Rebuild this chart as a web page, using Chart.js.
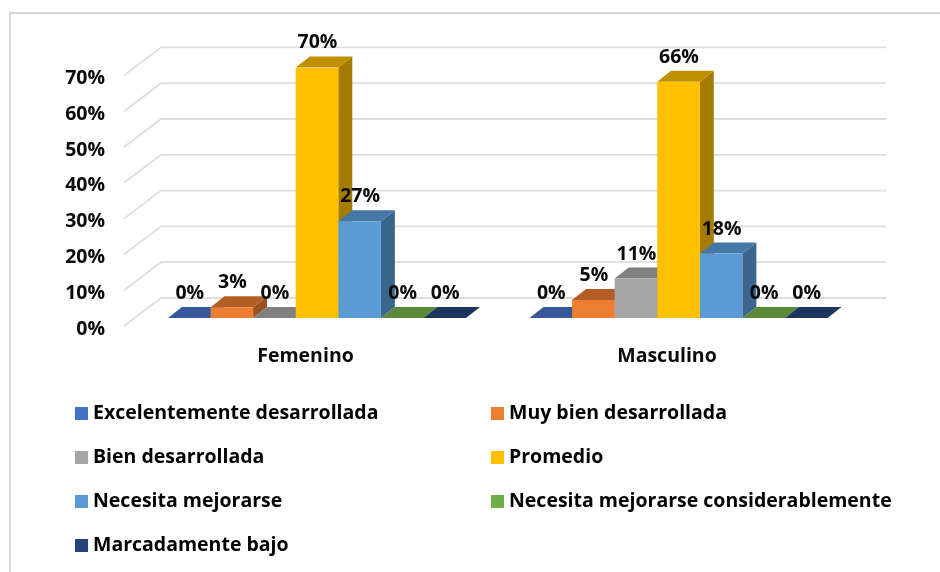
<!DOCTYPE html>
<html><head><meta charset="utf-8">
<style>html,body{margin:0;padding:0;background:#fff}canvas{display:block;filter:blur(0.4px)}</style>
<script src="https://cdn.jsdelivr.net/npm/chart.js@4/dist/chart.umd.min.js"></script>
</head><body>
<canvas id="c" width="940" height="572"></canvas>
<script>
const categories = ["Femenino", "Masculino"];
const excelente = [0, 0];
const muyBien = [3, 5];
const bien = [0, 11];
const promedio = [70, 66];
const necesita = [27, 18];
const considerable = [0, 0];
const bajo = [0, 0];
const seriesNames = ["Excelentemente desarrollada","Muy bien desarrollada","Bien desarrollada","Promedio","Necesita mejorarse","Necesita mejorarse considerablemente","Marcadamente bajo"];
const seriesValues = [excelente, muyBien, bien, promedio, necesita, considerable, bajo];
const frontColors = ["#4472C4","#ED7D31","#A5A5A5","#FFC000","#5B9BD5","#70AD47","#264478"];
const topColors   = ["#36589A","#B35E25","#808080","#BF9000","#4578A6","#5B8A38","#1D345E"];
const sideColors  = ["#2E4C85","#9C5220","#6E6E6E","#A47C00","#3A658D","#4C7530","#182C50"];
const FONT = "'Open Sans', sans-serif";
const FS = 19.5;
const INK = '#0A0A0A';
const DX = 14, DY = -11;

const threeD = {
  id: 'threeD',
  beforeDraw(chart) {
    const c = chart.ctx;
    c.save();
    c.fillStyle = '#fff'; c.fillRect(0, 0, 940, 572);
    c.fillStyle = '#D9D9D9';
    c.fillRect(9, 12, 931, 2);
    c.fillRect(9, 12, 2, 560);
    c.restore();
  },
  beforeDatasetsDraw(chart) {
    const c = chart.ctx, y = chart.scales.y, a = chart.chartArea;
    c.save();
    c.strokeStyle = '#DDDDDD'; c.lineWidth = 1.8;
    y.ticks.forEach(t => {
      const p = y.getPixelForValue(t.value);
      c.beginPath();
      c.moveTo(a.left - 12.25, p + 8);
      c.lineTo(a.left + 24.75, p - 20);
      c.lineTo(a.right + 26.75, p - 20);
      c.stroke();
    });
    chart.data.labels.forEach((_, g) => {
      chart.data.datasets.forEach((ds, i) => {
        const b = chart.getDatasetMeta(i).data[g];
        const l = b.x - b.width / 2, r = b.x + b.width / 2;
        const poly = (col, pts) => {
          c.fillStyle = col; c.beginPath();
          pts.forEach((q, k) => k ? c.lineTo(q[0], q[1]) : c.moveTo(q[0], q[1]));
          c.closePath(); c.fill();
        };
        poly(sideColors[i], [[r, b.base],[r + DX, b.base + DY],[r + DX, b.y + DY],[r, b.y]]);
        poly(topColors[i], [[l, b.y],[l + DX, b.y + DY],[r + DX, b.y + DY],[r, b.y]]);
      });
    });
    c.restore();
  },
  afterDatasetsDraw(chart) {
    const c = chart.ctx;
    c.save();
    c.font = "700 " + FS + "px " + FONT;
    c.fillStyle = INK; c.textAlign = 'center'; c.textBaseline = 'middle';
    chart.data.datasets.forEach((ds, i) => {
      chart.getDatasetMeta(i).data.forEach((b, g) => {
        c.fillText(ds.data[g] + '%', b.x + 0.5, b.y - 24.5);
      });
    });
    c.restore();
  },
  afterLayout(chart) {
    const L = chart.legend;
    L.left = 55.25; L.right = 935; L.top = 379.25; L.bottom = 379.25 + 210;
    L.width = L.right - L.left; L.height = 210;
    if (L.columnSizes && L.columnSizes[0]) L.columnSizes[0].width = 391.5;
  }
};

new Chart(document.getElementById('c'), {
  type: 'bar',
  data: {
    labels: categories,
    datasets: seriesNames.map((n, i) => ({
      label: n, data: seriesValues[i], backgroundColor: frontColors[i], borderWidth: 0,
      categoryPercentage: 0.8244, barPercentage: 1
    }))
  },
  plugins: [threeD],
  options: {
    responsive: false, animation: false,
    layout: { padding: { left: 0, top: 67.4, right: 80.75, bottom: 0 } },
    scales: {
      x: {
        grid: { display: false, drawTicks: false }, border: { display: false },
        ticks: { color: INK, font: { family: FONT, size: FS, weight: '700' }, padding: 27, labelOffset: -11.5, maxRotation: 0 },
        afterFit(s) { s.height = 254; }
      },
      y: {
        min: 0, max: 70,
        grid: { display: false, drawTicks: false }, border: { display: false },
        ticks: { stepSize: 10, color: INK, font: { family: FONT, size: FS, weight: '700' }, padding: 31.25, labelOffset: 11, callback: v => v + '%' },
        afterFit(s) { s.width = 136.25; }
      }
    },
    plugins: {
      tooltip: { enabled: false },
      legend: {
        position: 'chartArea', align: 'start',
        labels: {
          boxWidth: 3.5, boxHeight: 3.5, padding: 24.5, color: INK,
          font: { family: FONT, size: FS, weight: '700' },
          generateLabels(chart) {
            return chart.data.datasets.map((ds, i) => ({
              text: ds.label, fillStyle: frontColors[i], strokeStyle: frontColors[i],
              lineWidth: 9.5, datasetIndex: i, hidden: false
            }));
          },
          sort: (a, b) => ((a.datasetIndex % 2) * 10 + a.datasetIndex) - ((b.datasetIndex % 2) * 10 + b.datasetIndex)
        }
      }
    }
  }
});
</script>
</body></html>
